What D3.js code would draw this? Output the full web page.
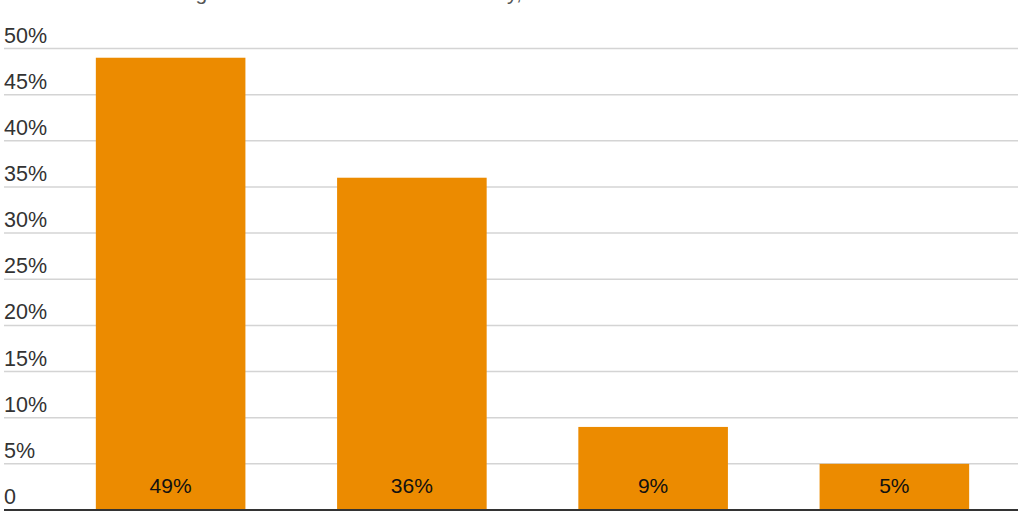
<!DOCTYPE html>
<html>
<head>
<meta charset="utf-8">
<script src="https://cdn.jsdelivr.net/npm/d3@7"></script>
<style>
  body { margin: 0; background: #fff; }
  svg { display: block; }
  text { font-family: "Liberation Sans", Arial, sans-serif; }
</style>
</head>
<body>
<div id="chart"></div>
<script>
const categories = ["A", "B", "C", "D"];
const values = [49, 36, 9, 5];
const ticks = [0, 5, 10, 15, 20, 25, 30, 35, 40, 45, 50];
const title = "Share of adults who get most of their news in each way, 2020 estimate";

const W = 1024, H = 512;
const svg = d3.select('#chart').append('svg')
    .attr('width', W)
    .attr('height', H);

const y = d3.scaleLinear().domain([0, 50]).range([510, 48.5]);
const x = d3.scaleBand().domain(categories)
    .range([50, 1015])
    .paddingInner(0.38)
    .paddingOuter(0.19);

// title sits mostly above the top edge, as in the source crop
svg.append('text')
    .attr('x', 4)
    .attr('y', -0.5)
    .attr('font-size', 21)
    .attr('fill', '#555')
    .text(title);

// gridlines
svg.selectAll('.grid')
    .data(ticks.filter(d => d > 0))
    .enter().append('line')
    .attr('class', 'grid')
    .attr('x1', 4).attr('x2', 1018)
    .attr('y1', d => y(d)).attr('y2', d => y(d))
    .attr('stroke', '#d4d4d4')
    .attr('stroke-width', 1.5);

// tick labels
svg.selectAll('.tick-label')
    .data(ticks)
    .enter().append('text')
    .attr('class', 'tick-label')
    .attr('x', 4)
    .attr('y', d => y(d) - 6)
    .attr('font-size', 21.5)
    .attr('fill', '#333')
    .text(d => d === 0 ? '0' : d + '%');

// bars
svg.selectAll('.bar')
    .data(values)
    .enter().append('rect')
    .attr('class', 'bar')
    .attr('x', (d, i) => x(categories[i]))
    .attr('width', x.bandwidth())
    .attr('y', d => y(d))
    .attr('height', d => y(0) - y(d))
    .attr('fill', '#ec8b00');

// value labels
svg.selectAll('.val')
    .data(values)
    .enter().append('text')
    .attr('class', 'val')
    .attr('x', (d, i) => x(categories[i]) + x.bandwidth() / 2)
    .attr('y', y(0) - 17)
    .attr('text-anchor', 'middle')
    .attr('font-size', 21)
    .attr('fill', '#111')
    .text(d => d + '%');

// baseline
svg.append('line')
    .attr('x1', 4).attr('x2', 1018)
    .attr('y1', y(0)).attr('y2', y(0))
    .attr('stroke', '#333')
    .attr('stroke-width', 2);
</script>
</body>
</html>
